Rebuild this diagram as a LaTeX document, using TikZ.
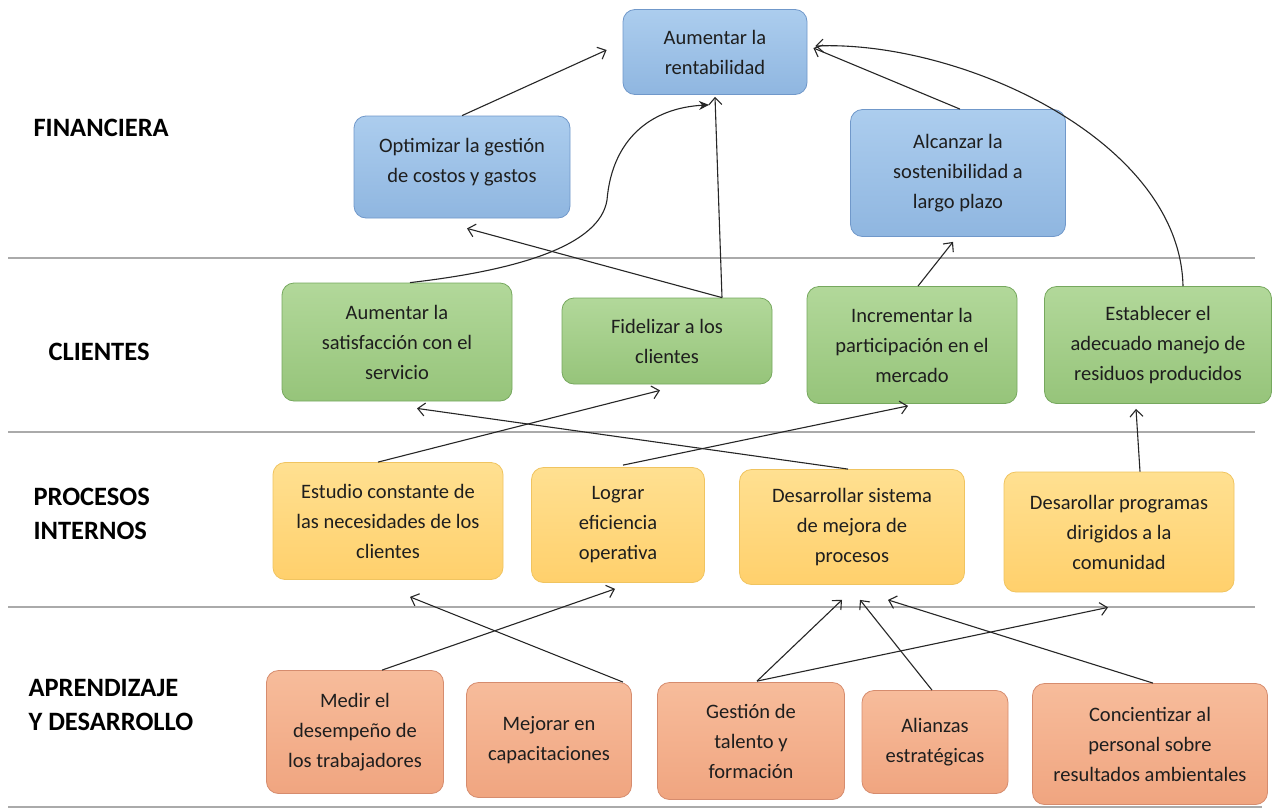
\documentclass[tikz,border=0pt]{standalone}
\usepackage{fontspec}
\setmainfont{Carlito}
\usetikzlibrary{arrows.meta,calc}
\definecolor{btop}{RGB}{172,205,238}
\definecolor{bbot}{RGB}{143,182,224}
\definecolor{bbd}{RGB}{112,152,202}
\definecolor{gtop}{RGB}{178,216,154}
\definecolor{gbot}{RGB}{150,196,122}
\definecolor{gbd}{RGB}{118,168,94}
\definecolor{ytop}{RGB}{255,224,145}
\definecolor{ybot}{RGB}{255,208,108}
\definecolor{ybd}{RGB}{240,196,96}
\definecolor{stop}{RGB}{247,188,155}
\definecolor{sbot}{RGB}{240,165,128}
\definecolor{sbd}{RGB}{214,140,110}
\definecolor{txt}{RGB}{30,30,30}
\definecolor{rule}{RGB}{170,170,170}
\begin{document}
\begin{tikzpicture}[x=1pt,y=-1pt,
  box/.style={rounded corners=12pt, draw, line width=0.8pt, align=center, text=txt,
    font=\fontsize{20.5}{30}\selectfont, inner sep=0pt},
  fin/.style={box, draw=bbd, top color=btop, bottom color=bbot},
  cli/.style={box, draw=gbd, top color=gtop, bottom color=gbot},
  pro/.style={box, draw=ybd, top color=ytop, bottom color=ybot},
  apr/.style={box, draw=sbd, top color=stop, bottom color=sbot},
  lab/.style={anchor=west, align=left, text=black, font=\fontsize{26.5}{34}\selectfont\bfseries},
  arr/.style={-{Straight Barb[length=7pt,width=13pt]}, line width=1.1pt, black!85},
  sep/.style={draw=rule, line width=1.2pt}]
\useasboundingbox (0,0) rectangle (1275,809);
\fill[white] (0,0) rectangle (1275,809);
% separators
\draw[sep] (8,258) -- (1255,258);
\draw[sep] (8,432) -- (1255,432);
\draw[sep] (8,607) -- (1255,607);
\draw[sep] (8,807) -- (1262,807);
% labels
\node[lab] (lfin) at (30,128) {FINANCIERA};
\node[lab] (lcli) at (45,352) {CLIENTES};
\node[lab] (lpro) at (30,514) {PROCESOS\\INTERNOS};
\node[lab] (lapr) at (25,705) {APRENDIZAJE\\Y DESARROLLO};
% financiera
\node[fin, minimum width=184pt, minimum height=85pt] (aum) at (715,52) {Aumentar la\\rentabilidad};
\node[fin, minimum width=216pt, minimum height=102pt] (opt) at (462,167) {Optimizar la gestión\\de costos y gastos\\[-16pt]};
\node[fin, minimum width=215pt, minimum height=127pt] (alc) at (958,173) {Alcanzar la\\sostenibilidad a\\largo plazo};
% clientes
\node[cli, minimum width=230pt, minimum height=118pt] (sat) at (397,342) {Aumentar la\\satisfacción con el\\servicio};
\node[cli, minimum width=210pt, minimum height=86pt] (fid) at (667,341) {Fidelizar a los\\clientes};
\node[cli, minimum width=210pt, minimum height=117pt] (inc) at (912,345) {Incrementar la\\participación en el\\mercado};
\node[cli, minimum width=227pt, minimum height=117pt] (est) at (1158,345) {Establecer el\\adecuado manejo de\\residuos producidos};
% procesos
\node[pro, minimum width=230pt, minimum height=117pt] (estu) at (388,521) {Estudio constante de\\las necesidades de los\\clientes};
\node[pro, minimum width=173pt, minimum height=115pt] (log) at (618,525) {Lograr\\eficiencia\\operativa};
\node[pro, minimum width=225pt, minimum height=115pt] (des) at (852,527) {Desarrollar sistema\\de mejora de\\procesos};
\node[pro, minimum width=230pt, minimum height=120pt] (prog) at (1119,532) {Desarollar programas\\dirigidos a la\\comunidad};
% aprendizaje
\node[apr, minimum width=177pt, minimum height=123pt] (med) at (355,732) {Medir el\\desempeño de\\los trabajadores};
\node[apr, minimum width=165pt, minimum height=115pt] (mej) at (549,740) {Mejorar en\\capacitaciones};
\node[apr, minimum width=187pt, minimum height=117pt] (ges) at (751,741) {Gestión de\\talento y\\formación};
\node[apr, minimum width=146pt, minimum height=103pt] (ali) at (935,742) {Alianzas\\estratégicas};
\node[apr, minimum width=235pt, minimum height=121pt] (con) at (1150,744) {Concientizar al\\personal sobre\\resultados ambientales};
% arrows
\draw[arr] (opt.north) -- ($(aum.west)+(-16,-2)$);
\draw[-{Stealth[length=10pt,width=9pt]}, line width=1.1pt, black!85]
  ($(sat.north)+(13,0)$) .. controls (520,270) and (600,245) .. (607,200)
  .. controls (612,140) and (650,108) .. ($(aum.south)+(-6,10)$);
\draw[arr] ($(fid.north)+(55,0)$) -- ($(aum.south)+(0,2)$);
\draw[arr] ($(fid.north)+(55,0)$) -- ($(opt.south)+(5,10)$);
\draw[arr] ($(inc.north)+(6,0)$) -- ($(alc.south)+(-5,5)$);
\draw[arr] ($(alc.north)+(2,0)$) -- ($(aum.east)+(6,-4)$);
\draw[arr] ($(est.north)+(25,0)$) .. controls (1180,140) and (960,40) .. ($(aum.east)+(8,-6)$);
\draw[arr] ($(estu.north)+(-10,0)$) -- ($(fid.south)+(-7,6)$);
\draw[arr] ($(des.north)+(-4,0)$) -- ($(sat.south)+(20,7)$);
\draw[arr] ($(log.north)+(5,-2)$) -- ($(inc.south)+(-4,2)$);
\draw[arr] ($(prog.north)+(21,0)$) -- ($(est.south)+(-22,5)$);
\draw[arr] ($(med.north)+(27,0)$) -- ($(log.south)+(-3,6)$);
\draw[arr] ($(mej.north)+(74,0)$) -- ($(estu.south)+(22,17)$);
\draw[arr] ($(ges.north)+(6,-1)$) -- ($(des.south)+(-10,15)$);
\draw[arr] ($(ges.north)+(6,-1)$) -- ($(prog.south)+(-11,15)$);
\draw[arr] ($(ali.north)+(-3,0)$) -- ($(des.south)+(8,15)$);
\draw[arr] ($(con.north)+(3,0)$) -- ($(des.south)+(36,15)$);
\end{tikzpicture}
\end{document}
